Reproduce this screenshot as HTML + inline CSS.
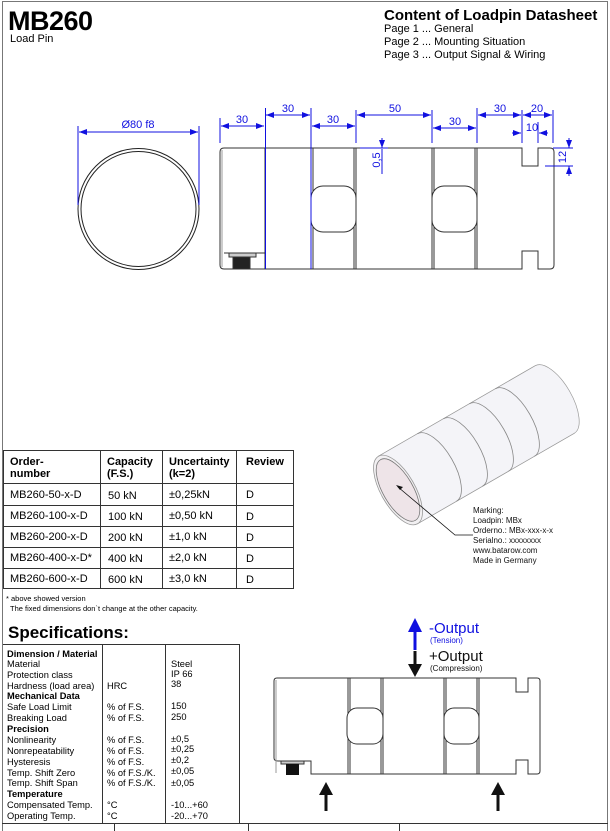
<!DOCTYPE html>
<html><head><meta charset="utf-8"><style>
html,body{margin:0;padding:0;background:#fff;}
svg{display:block;font-family:"Liberation Sans",sans-serif;}
</style></head><body>
<svg width="610" height="831" viewBox="0 0 610 831" xmlns="http://www.w3.org/2000/svg">
<defs>
<marker id="ab" markerWidth="8" markerHeight="6" refX="8" refY="3" orient="auto-start-reverse" markerUnits="userSpaceOnUse"><path d="M0,0 L8,3 L0,6z" fill="#1010e0"/></marker>
</defs>
<!-- frame -->
<path d="M2.5,831 V1.5 H607.5 V831" fill="none" stroke="#777" stroke-width="1"/>
<!-- header -->
<text x="8" y="30" font-size="27" font-weight="bold" letter-spacing="-0.5">MB260</text>
<text x="10" y="42" font-size="11">Load Pin</text>
<text x="384" y="20" font-size="15" font-weight="bold">Content of Loadpin Datasheet</text>
<text x="384" y="32" font-size="11">Page 1 ... General</text>
<text x="384" y="45" font-size="11">Page 2 ... Mounting Situation</text>
<text x="384" y="58" font-size="11">Page 3 ... Output Signal &amp; Wiring</text>

<!-- circle view -->
<circle cx="138.5" cy="209" r="60.5" fill="#fff" stroke="#222" stroke-width="1"/>
<circle cx="138.5" cy="209" r="57.5" fill="none" stroke="#222" stroke-width="1"/>
<g stroke="#1010e0" stroke-width="1" fill="none">
<line x1="78" y1="126" x2="78" y2="205"/><line x1="199" y1="126" x2="199" y2="205"/>
<line x1="79" y1="132" x2="198" y2="132" marker-start="url(#ab)" marker-end="url(#ab)"/>
</g>
<text x="138" y="128" font-size="11" fill="#1010e0" text-anchor="middle">Ø80 f8</text>

<!-- side view -->
<g stroke="#333" stroke-width="1" fill="#fff">
<path d="M224,148 H265 V269 H224 Q220,269 220,265 V152 Q220,148 224,148z"/>
<line x1="222" y1="150" x2="222" y2="267" stroke="#999"/>
<rect x="265" y="148" width="46" height="121"/>
<rect x="311" y="148" width="45" height="121"/>
<rect x="313" y="148" width="41" height="121" fill="none"/>
<rect x="356" y="148" width="76" height="121"/>
<rect x="432" y="148" width="45" height="121"/>
<rect x="434" y="148" width="41" height="121" fill="none"/>
<path d="M477,148 H522 V166 H538 V148 H550 Q554,148 554,152 V265 Q554,269 550,269 H538 V251 H522 V269 H477z"/>
<rect x="311" y="186" width="45" height="46" rx="12"/>
<rect x="432" y="186" width="45" height="46" rx="12"/>
<line x1="224" y1="253" x2="265" y2="253"/>
<rect x="229" y="253" width="27" height="4" fill="#ccc"/>
<rect x="233" y="257" width="17" height="12" fill="#222"/>
</g>
<g stroke="#1010e0" stroke-width="1" fill="none">
<line x1="220" y1="118" x2="220" y2="143"/>
<line x1="265.5" y1="108" x2="265.5" y2="269"/>
<line x1="311" y1="108" x2="311" y2="269"/>
<line x1="356" y1="110" x2="356" y2="143"/>
<line x1="432" y1="110" x2="432" y2="143"/>
<line x1="477" y1="108" x2="477" y2="143"/>
<line x1="522" y1="110" x2="522" y2="143"/>
<line x1="538" y1="122" x2="538" y2="143"/>
<line x1="553" y1="110" x2="553" y2="143"/>
<line x1="221" y1="126" x2="264" y2="126" marker-start="url(#ab)" marker-end="url(#ab)"/>
<line x1="266" y1="115" x2="310" y2="115" marker-start="url(#ab)" marker-end="url(#ab)"/>
<line x1="312" y1="126" x2="355" y2="126" marker-start="url(#ab)" marker-end="url(#ab)"/>
<line x1="357" y1="115" x2="431" y2="115" marker-start="url(#ab)" marker-end="url(#ab)"/>
<line x1="433" y1="128" x2="476" y2="128" marker-start="url(#ab)" marker-end="url(#ab)"/>
<line x1="478" y1="115" x2="521" y2="115" marker-start="url(#ab)" marker-end="url(#ab)"/>
<line x1="523" y1="115" x2="552" y2="115" marker-start="url(#ab)" marker-end="url(#ab)"/>
<line x1="512" y1="133" x2="521" y2="133" marker-end="url(#ab)"/>
<line x1="548" y1="133" x2="539" y2="133" marker-end="url(#ab)"/>
<line x1="382" y1="138" x2="382" y2="148" marker-end="url(#ab)"/>
<line x1="382" y1="174" x2="382" y2="149"/>
<line x1="360" y1="148" x2="388" y2="148"/>
<line x1="545" y1="166" x2="573" y2="166"/>
<line x1="553" y1="148" x2="573" y2="148"/>
<line x1="569" y1="138" x2="569" y2="148" marker-end="url(#ab)"/>
<line x1="569" y1="176" x2="569" y2="166" marker-end="url(#ab)"/>
</g>
<g fill="#1010e0" font-size="11" text-anchor="middle">
<text x="242" y="123">30</text><text x="288" y="112">30</text><text x="333" y="123">30</text>
<text x="395" y="112">50</text><text x="455" y="125">30</text><text x="500" y="112">30</text>
<text x="537" y="112">20</text><text x="532" y="131">10</text>
<text transform="translate(380,160) rotate(-90)">0,5</text>
<text transform="translate(566,157) rotate(-90)">12</text>
</g>

<!-- 3D view -->
<g transform="translate(398,490) rotate(-30)">
<rect x="0" y="-39" width="181" height="78" fill="#f7f7fa" stroke="#999" stroke-width="0.7"/>
<path d="M0,-39 H181 A17,39 0 0 1 181,39 H0z" fill="#f4f4f8" stroke="#999" stroke-width="0.7"/>
<g fill="none" stroke="#888" stroke-width="0.8">
<path d="M45,-39 A17,39 0 0 1 45,39"/><path d="M75,-39 A17,39 0 0 1 75,39"/>
<path d="M105,-39 A17,39 0 0 1 105,39"/><path d="M135,-39 A17,39 0 0 1 135,39"/>
</g>
<ellipse cx="0" cy="0" rx="17" ry="39" fill="#f2f0f2" stroke="#999" stroke-width="0.8"/>
<ellipse cx="0" cy="0" rx="15" ry="35" fill="#eee4e8" stroke="#777" stroke-width="0.8"/>
</g>
<polyline points="398,487 455,535 473,535" fill="none" stroke="#111" stroke-width="0.8"/>
<path d="M396,485 l7,2 l-3,3z" fill="#111"/>
<g font-size="8" fill="#111">
<text x="473" y="513">Marking:</text><text x="473" y="523">Loadpin: MBx</text>
<text x="473" y="533">Orderno.: MBx-xxx-x-x</text><text x="473" y="543">Serialno.: xxxxxxxx</text>
<text x="473" y="553">www.batarow.com</text><text x="473" y="563">Made in Germany</text>
</g>

<!-- order table -->
<g stroke="#333" stroke-width="1" fill="none">
<rect x="3.5" y="450.5" width="290" height="138"/>
<line x1="3" y1="483.5" x2="294" y2="483.5"/>
<line x1="3" y1="505.5" x2="294" y2="505.5"/><line x1="3" y1="526.5" x2="294" y2="526.5"/>
<line x1="3" y1="547.5" x2="294" y2="547.5"/><line x1="3" y1="568.5" x2="294" y2="568.5"/>
<line x1="100.5" y1="450" x2="100.5" y2="589"/><line x1="162.5" y1="450" x2="162.5" y2="589"/>
<line x1="236.5" y1="450" x2="236.5" y2="589"/>
</g>
<g font-size="11" font-weight="bold" fill="#000">
<text x="10" y="465">Order-</text><text x="10" y="477">number</text>
<text x="107" y="465">Capacity</text><text x="107" y="477">(F.S.)</text>
<text x="169" y="465">Uncertainty</text><text x="169" y="477">(k=2)</text>
<text x="246" y="465">Review</text>
</g>
<g font-size="11" fill="#000">
<text x="10" y="498">MB260-50-x-D</text><text x="108" y="499">50 kN</text><text x="169" y="498">±0,25kN</text><text x="246" y="498">D</text>
<text x="10" y="519">MB260-100-x-D</text><text x="108" y="520">100 kN</text><text x="169" y="519">±0,50 kN</text><text x="246" y="520">D</text>
<text x="10" y="540">MB260-200-x-D</text><text x="108" y="541">200 kN</text><text x="169" y="540">±1,0 kN</text><text x="246" y="541">D</text>
<text x="10" y="561">MB260-400-x-D*</text><text x="108" y="562">400 kN</text><text x="169" y="561">±2,0 kN</text><text x="246" y="562">D</text>
<text x="10" y="582">MB260-600-x-D</text><text x="108" y="583">600 kN</text><text x="169" y="582">±3,0 kN</text><text x="246" y="583">D</text>
</g>
<text x="6" y="601" font-size="7.5">* above showed version</text>
<text x="10" y="611" font-size="7.5">The fixed dimensions don`t change at the other capacity.</text>
<text x="8" y="638" font-size="17" font-weight="bold">Specifications:</text>

<!-- spec table -->
<g stroke="#333" stroke-width="1" fill="none">
<path d="M3,644.5 H239.5 V823"/>
<line x1="102.5" y1="644" x2="102.5" y2="823"/><line x1="165.5" y1="644" x2="165.5" y2="823"/>
</g>
<g font-size="9.3" fill="#000">
<text x="7" y="657" font-weight="bold">Dimension / Material</text>
<text x="7" y="667">Material</text><text x="171" y="667">Steel</text>
<text x="7" y="678">Protection class</text><text x="171" y="677">IP 66</text>
<text x="7" y="689">Hardness (load area)</text><text x="107" y="689">HRC</text><text x="171" y="687">38</text>
<text x="7" y="699" font-weight="bold">Mechanical Data</text>
<text x="7" y="710">Safe Load Limit</text><text x="107" y="710">% of F.S.</text><text x="171" y="709">150</text>
<text x="7" y="721">Breaking Load</text><text x="107" y="721">% of F.S.</text><text x="171" y="720">250</text>
<text x="7" y="732" font-weight="bold">Precision</text>
<text x="7" y="743">Nonlinearity</text><text x="107" y="743">% of F.S.</text><text x="171" y="742">±0,5</text>
<text x="7" y="754">Nonrepeatability</text><text x="107" y="754">% of F.S.</text><text x="171" y="752">±0,25</text>
<text x="7" y="765">Hysteresis</text><text x="107" y="765">% of F.S.</text><text x="171" y="763">±0,2</text>
<text x="7" y="776">Temp. Shift Zero</text><text x="107" y="776">% of F.S./K.</text><text x="171" y="774">±0,05</text>
<text x="7" y="786">Temp. Shift Span</text><text x="107" y="786">% of F.S./K.</text><text x="171" y="786">±0,05</text>
<text x="7" y="797" font-weight="bold">Temperature</text>
<text x="7" y="808">Compensated Temp.</text><text x="107" y="808">°C</text><text x="171" y="808">-10...+60</text>
<text x="7" y="819">Operating Temp.</text><text x="107" y="819">°C</text><text x="171" y="819">-20...+70</text>
</g>

<!-- bottom diagram -->
<g stroke="#333" stroke-width="1" fill="#fff">
<path d="M277,678 H348 V774 H311 V761 H278 Q274,761 274,758 V681 Q274,678 277,678z"/>
<line x1="276" y1="680" x2="276" y2="773" stroke="#999"/>
<rect x="348" y="678" width="35" height="96"/>
<rect x="350" y="678" width="31" height="96" fill="none"/>
<rect x="383" y="678" width="61" height="96"/>
<rect x="444" y="678" width="35" height="96"/>
<rect x="446" y="678" width="31" height="96" fill="none"/>
<path d="M479,678 H516 V692 H528 V678 H537 Q540,678 540,681 V771 Q540,774 537,774 H528 V760 H516 V774 H479z"/>
<rect x="347" y="708" width="36" height="36" rx="10"/>
<rect x="444" y="708" width="35" height="36" rx="10"/>
<rect x="281" y="761" width="23" height="3" fill="#ccc"/>
<rect x="286" y="764" width="13" height="11" fill="#111" stroke="none"/>
</g>
<line x1="415" y1="650" x2="415" y2="630" stroke="#1010e0" stroke-width="3"/>
<path d="M408,632 L415,618 L422,632z" fill="#1010e0"/>
<line x1="415" y1="651" x2="415" y2="665" stroke="#111" stroke-width="3"/>
<path d="M408,664 L415,677 L422,664z" fill="#111"/>
<line x1="326" y1="811" x2="326" y2="794" stroke="#111" stroke-width="3"/>
<path d="M319,795 L326,782 L333,795z" fill="#111"/>
<line x1="498" y1="811" x2="498" y2="794" stroke="#111" stroke-width="3"/>
<path d="M491,795 L498,782 L505,795z" fill="#111"/>
<text x="429" y="633" font-size="15" fill="#1010e0">-Output</text>
<text x="430" y="643" font-size="8" fill="#1010e0">(Tension)</text>
<text x="429" y="661" font-size="15" fill="#111">+Output</text>
<text x="430" y="671" font-size="8" fill="#111">(Compression)</text>

<!-- bottom row -->
<g stroke="#333" stroke-width="1">
<line x1="2" y1="823.5" x2="608" y2="823.5"/>
<line x1="114.5" y1="823" x2="114.5" y2="831"/><line x1="248.5" y1="823" x2="248.5" y2="831"/>
<line x1="399.5" y1="823" x2="399.5" y2="831"/>
</g>
</svg>
</body></html>
